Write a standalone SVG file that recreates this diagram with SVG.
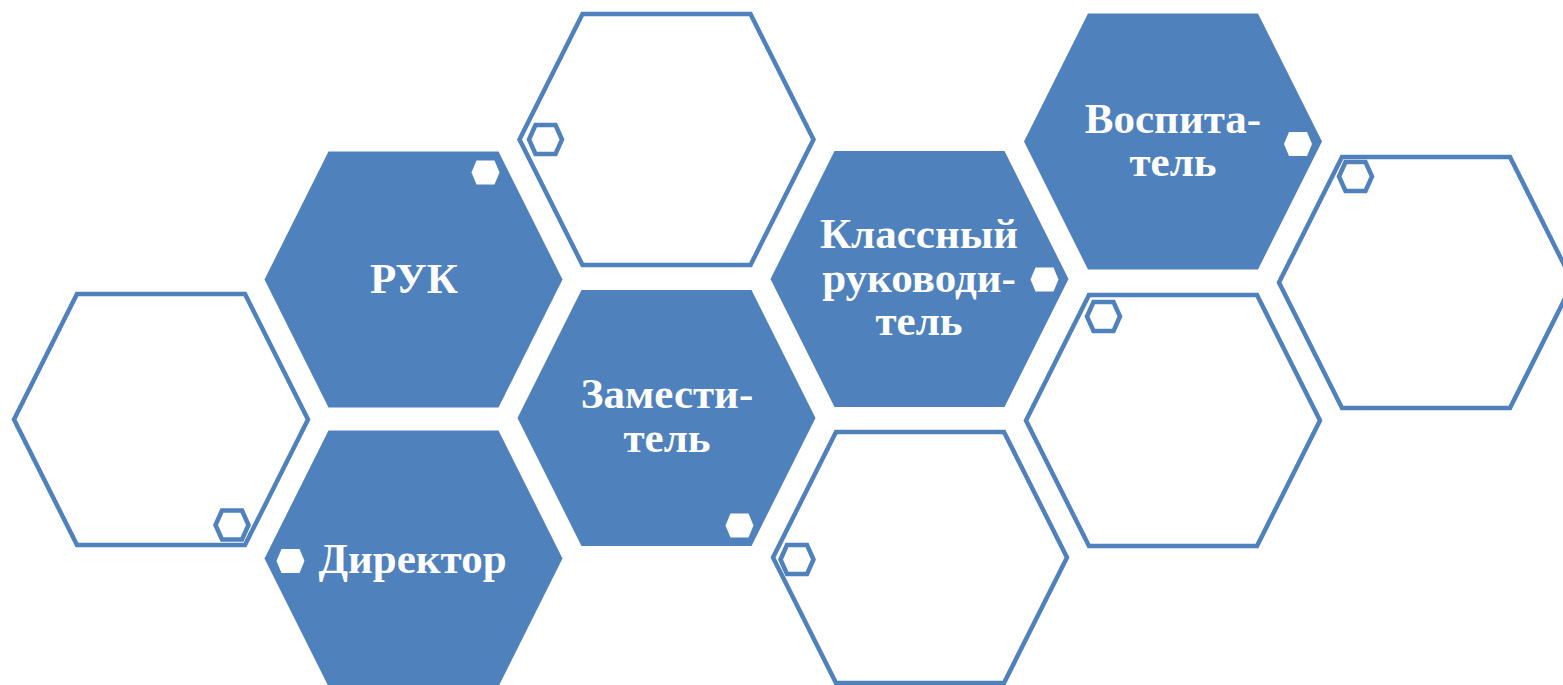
<svg xmlns="http://www.w3.org/2000/svg" xmlns:xlink="http://www.w3.org/1999/xlink" width="1563" height="685" viewBox="0 0 1563 685">
<style>
.fill{fill:#4F81BD;stroke:none}
.outline{fill:#FFFFFF;stroke:#4F81BD;stroke-width:4.5}
.dot{fill:#FFFFFF;stroke:none}
.odot{fill:#FFFFFF;stroke:#4F81BD;stroke-width:4.5}
.lbl{font-family:"Liberation Serif","Times New Roman",serif;font-weight:bold;font-size:43px;fill:#FFFFFF;text-anchor:middle}
</style>
<defs>
<polygon id="bigFill" points="-149,0 -85,-128 85,-128 149,0 85,128 -85,128"/>
<polygon id="bigLine" points="-147,0 -84,-125.5 84,-125.5 147,0 84,125.5 -84,125.5"/>
<polygon id="smallFill" points="-14,0 -9,-12 9,-12 14,0 9,12 -9,12"/>
<polygon id="smallLine" points="-16.5,0 -10,-14.5 10,-14.5 16.5,0 10,14.5 -10,14.5"/>
</defs>
<rect width="1563" height="685" fill="#FFFFFF"/>

<g id="outline-left">
<use xlink:href="#bigLine" href="#bigLine" class="outline" transform="translate(161,419.5)"/>
<use xlink:href="#smallLine" href="#smallLine" class="odot" transform="translate(232,525)"/>
</g>
<g id="outline-top">
<use xlink:href="#bigLine" href="#bigLine" class="outline" transform="translate(666.5,139.5)"/>
<use xlink:href="#smallLine" href="#smallLine" class="odot" transform="translate(545.5,139.5)"/>
</g>
<g id="outline-bottom">
<use xlink:href="#bigLine" href="#bigLine" class="outline" transform="translate(920,557.5)"/>
<use xlink:href="#smallLine" href="#smallLine" class="odot" transform="translate(797,559.5)"/>
</g>
<g id="outline-right-mid">
<use xlink:href="#bigLine" href="#bigLine" class="outline" transform="translate(1173,420.5)"/>
<use xlink:href="#smallLine" href="#smallLine" class="odot" transform="translate(1103.5,316.5)"/>
</g>
<g id="outline-far-right">
<use xlink:href="#bigLine" href="#bigLine" class="outline" transform="translate(1426,282.5)"/>
<use xlink:href="#smallLine" href="#smallLine" class="odot" transform="translate(1355.5,176.5)"/>
</g>

<g id="node-ruk">
<use xlink:href="#bigFill" href="#bigFill" class="fill" transform="translate(413.5,279.5)"/>
<use xlink:href="#smallFill" href="#smallFill" class="dot" transform="translate(485.5,172.5)"/>
<text class="lbl" x="414" y="293">РУК</text>
</g>
<g id="node-director">
<use xlink:href="#bigFill" href="#bigFill" class="fill" transform="translate(413.5,558.5)"/>
<use xlink:href="#smallFill" href="#smallFill" class="dot" transform="translate(290.5,561)"/>
<text class="lbl" x="412.5" y="573">Директор</text>
</g>
<g id="node-deputy">
<use xlink:href="#bigFill" href="#bigFill" class="fill" transform="translate(666.5,418)"/>
<use xlink:href="#smallFill" href="#smallFill" class="dot" transform="translate(739.5,525.5)"/>
<text class="lbl" x="667" y="407.5">Замести-</text>
<text class="lbl" x="667" y="452">тель</text>
</g>
<g id="node-class-teacher">
<use xlink:href="#bigFill" href="#bigFill" class="fill" transform="translate(919.5,279)"/>
<use xlink:href="#smallFill" href="#smallFill" class="dot" transform="translate(1044.5,279.5)"/>
<text class="lbl" x="919" y="248">Классный</text>
<text class="lbl" x="919" y="291.5">руководи-</text>
<text class="lbl" x="919" y="335">тель</text>
</g>
<g id="node-educator">
<use xlink:href="#bigFill" href="#bigFill" class="fill" transform="translate(1173,141.5)"/>
<use xlink:href="#smallFill" href="#smallFill" class="dot" transform="translate(1298,144)"/>
<text class="lbl" x="1173" y="133">Воспита-</text>
<text class="lbl" x="1173" y="176">тель</text>
</g>
<g id="connectors"></g>
</svg>
